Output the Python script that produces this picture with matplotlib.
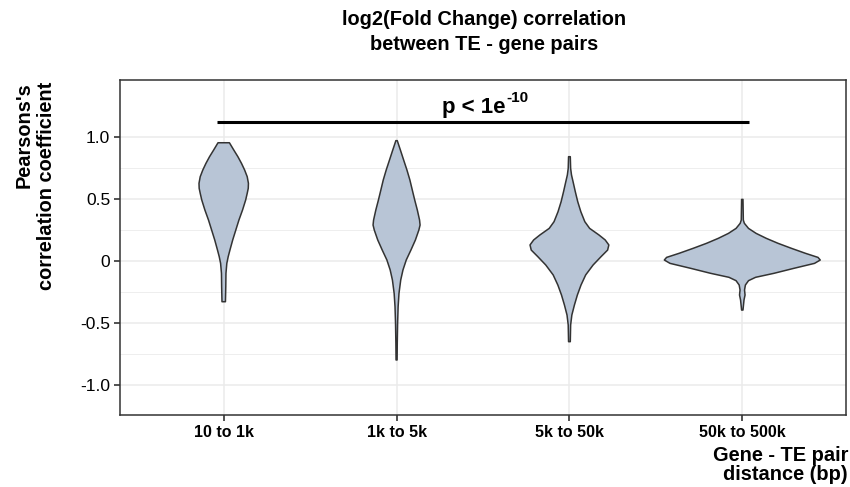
import matplotlib
matplotlib.use("Agg")
import matplotlib.pyplot as plt
import numpy as np

plt.rcParams['font.family'] = ['Liberation Sans', 'DejaVu Sans']

categories = ["10 to 1k", "1k to 5k", "5k to 50k", "50k to 500k"]

# violin outlines: correlation levels and half-widths (x-axis units)
v1_y = [0.950, 0.892, 0.838, 0.784, 0.731, 0.677, 0.624, 0.584, 0.544, 0.490, 0.410, 0.329,
        0.249, 0.169, 0.088, 0.035, -0.019, -0.099, -0.206, -0.327]
v1_w = [0.033, 0.058, 0.082, 0.103, 0.121, 0.136, 0.143, 0.142, 0.136, 0.127, 0.109, 0.088,
        0.070, 0.052, 0.036, 0.026, 0.018, 0.013, 0.012, 0.010]

v2_y = [0.967, 0.892, 0.811, 0.731, 0.651, 0.570, 0.490, 0.410, 0.329, 0.289, 0.249, 0.169,
        0.088, 0.008, -0.072, -0.153, -0.260, -0.367, -0.501, -0.661, -0.795]
v2_w = [0.004, 0.022, 0.041, 0.060, 0.077, 0.091, 0.105, 0.120, 0.133, 0.136, 0.129, 0.109,
        0.083, 0.056, 0.037, 0.024, 0.014, 0.009, 0.006, 0.004, 0.003]

v3_y = [0.838, 0.744, 0.691, 0.637, 0.557, 0.477, 0.396, 0.316, 0.262, 0.209, 0.169, 0.129,
        0.088, 0.035, -0.032, -0.112, -0.193, -0.273, -0.353, -0.434, -0.514, -0.648]
v3_w = [0.005, 0.007, 0.012, 0.021, 0.034, 0.048, 0.066, 0.089, 0.117, 0.171, 0.207, 0.228,
        0.221, 0.183, 0.137, 0.094, 0.067, 0.046, 0.029, 0.014, 0.007, 0.005]

v4_y = [0.495, 0.329, 0.303, 0.262, 0.222, 0.182, 0.142, 0.102, 0.062, 0.029, 0.008, -0.019,
        -0.059, -0.099, -0.131, -0.158, -0.193, -0.233, -0.273, -0.313, -0.394]
v4_w = [0.004, 0.006, 0.012, 0.036, 0.080, 0.139, 0.207, 0.284, 0.365, 0.438, 0.451, 0.418,
        0.298, 0.183, 0.077, 0.036, 0.018, 0.013, 0.016, 0.010, 0.004]

violins = [(v1_y, v1_w), (v2_y, v2_w), (v3_y, v3_w), (v4_y, v4_w)]

yticks = [-1.0, -0.5, 0.0, 0.5, 1.0]
ytick_labels = ["-1.0", "-0.5", "0", "0.5", "1.0"]
yminor = [-0.75, -0.25, 0.25, 0.75]

sig_y = 1.12
sig_x = [0.96, 4.04]
sig_label = "p < 1e"
sig_exp = "-10"

W, H = 850, 487
fig = plt.figure(figsize=(W / 100, H / 100), dpi=100)
ax = fig.add_axes([120 / W, 72 / H, 726 / W, 335 / H])

fill_c = "#B8C5D6"
edge_c = "#333333"
for i, (ys, ws) in enumerate(violins):
    x0 = i + 1
    ys = np.array(ys); ws = np.array(ws)
    xs = np.concatenate([x0 - ws, (x0 + ws)[::-1]])
    yy = np.concatenate([ys, ys[::-1]])
    ax.fill(xs, yy, facecolor=fill_c, edgecolor=edge_c, linewidth=1.1, zorder=3,
            joinstyle="round")

ax.plot(sig_x, [sig_y, sig_y], color="black", linewidth=2.2, zorder=4, solid_capstyle="butt")
t = ax.text(2.63, 1.19, sig_label, ha="right", va="baseline", fontsize=16,
            fontweight="bold", zorder=5)
ax.annotate(sig_exp, xy=(1.0, 1.275), xycoords=(t, "data"), xytext=(1, 0),
            textcoords="offset points", ha="left", va="baseline", fontsize=11,
            fontweight="bold", zorder=5)

ax.set_xlim(0.4, 4.6)
ax.set_ylim(-1.237, 1.454)
ax.set_xticks(range(1, 5))
ax.set_xticklabels(categories, fontweight="bold", fontsize=11.5)
ax.set_yticks(yticks)
ax.set_yticklabels(ytick_labels, fontsize=12.5)
ax.set_yticks(yminor, minor=True)
ax.tick_params(axis="y", which="minor", length=0)
ax.tick_params(axis="both", which="major", length=4, width=1.2, color="#333333",
               labelcolor="black", pad=3)
ax.grid(True, which="major", color="#EBEBEB", linewidth=1.1, zorder=0)
ax.grid(True, which="minor", axis="y", color="#EBEBEB", linewidth=0.6, zorder=0)
ax.set_axisbelow(True)
for s in ax.spines.values():
    s.set_color("#333333")
    s.set_linewidth(1.1)

fig.text(484 / W, 1 - 10 / H, "log2(Fold Change) correlation\nbetween TE - gene pairs",
         ha="center", va="top", fontweight="bold", fontsize=14.4, linespacing=1.4)
fig.text(15 / W, 1 - 82 / H, "Pearsons's\ncorrelation coefficient", rotation=90,
         ha="left", va="top", multialignment="right", fontweight="bold", fontsize=14.4,
         linespacing=1.2)
fig.text(848 / W, 3 / H, "Gene - TE pair\ndistance (bp)", ha="right", va="bottom",
         multialignment="right", fontweight="bold", fontsize=14.4, linespacing=1.0)

fig.savefig("out.png", dpi=100)
